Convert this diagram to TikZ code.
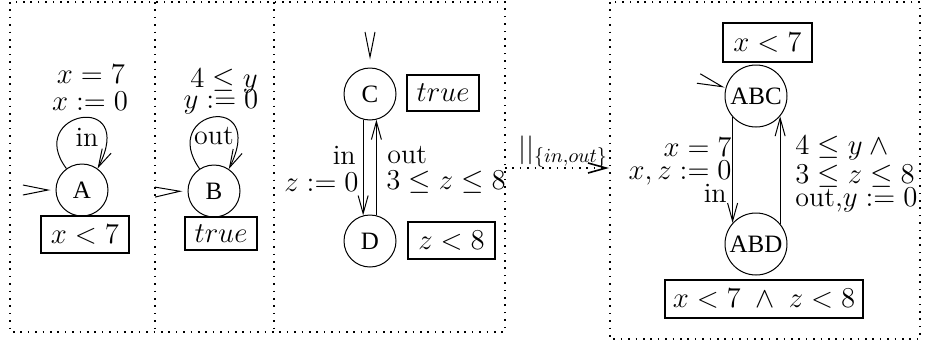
\documentclass[tikz,border=0pt]{standalone}
\usepackage{fontspec}
\newfontfamily\stfont{Liberation Serif}
\usetikzlibrary{arrows.meta}
\begin{document}
\begin{tikzpicture}[x=0.5pt,y=-0.5pt,
  state/.style={draw,circle,line width=0.5pt,minimum size=26pt,inner sep=0pt,font=\stfont\fontsize{12.5}{12.5}\selectfont},
  bigstate/.style={state,minimum size=31pt},
  inv/.style={draw,line width=1.2pt,inner sep=0pt,font=\fontsize{14}{14}\selectfont},
  lbl/.style={inner sep=0pt,font=\fontsize{14}{14}\selectfont},
  frame/.style={line width=0.8pt,dash pattern=on 0.8pt off 2.9pt},
  arr/.style={line width=0.5pt,-{Straight Barb[length=9pt,width=5pt]}},
  initarr/.style={line width=0.5pt,dash pattern=on 0pt off 1000pt,-{Straight Barb[length=12.5pt,width=5pt]}}]
\useasboundingbox (0,0) rectangle (926,343);
% frames
\draw[frame] (10,2) rectangle (505,332);
\draw[frame] (155,2) -- (155,332);
\draw[frame] (274,2) -- (274,332);
\draw[frame] (610,2) rectangle (920,339);

% panel 1
\node[state] (A) at (82,190) {A};
\coordinate (a0) at (25,190);
\draw[initarr,shorten >=2.5pt] (a0) -- (A.west);
\draw[arr] (A.126) .. controls (24,112) and (138,90) .. (A.54);
\node[lbl] (lA1) at (91,74) {$x=7$};
\node[lbl] (lA2) at (90,101) {$x:=0$};
\node[lbl] (lA3) at (87,137) {in};
\node[inv,minimum width=44pt,minimum height=18.5pt] (iA) at (85,234.5) {$x<7$};

% panel 2
\node[state] (B) at (214,191) {B};
\coordinate (b0) at (157,192);
\draw[initarr,shorten >=2.5pt] (b0) -- (B.west);
\draw[arr] (B.123) .. controls (158,110) and (268,90) .. (B.56);
\node[lbl] (lB1) at (224,81) {$4\leq y$};
\node[lbl] (lB2) at (221,102) {$y:=0$};
\node[lbl] (lB3) at (214,136) {out};
\node[inv,minimum width=36pt,minimum height=16.5pt] (iB) at (221,233.5) {$true$};

% panel 3
\node[state] (C) at (370,94) {C};
\node[state] (D) at (370,241) {D};
\coordinate (c0) at (370,33);
\draw[initarr,shorten >=4pt] (c0) -- (C.north);
\draw[arr] (C.-105.6) -- (D.105.6);
\draw[arr] (D.76.6) -- (C.-76.6);
\node[inv,minimum width=36pt,minimum height=18pt] (iC) at (443,93) {$true$};
\node[inv,minimum width=43.5pt,minimum height=18.5pt] (iD) at (451.5,240.5) {$z<8$};
\node[lbl,anchor=east] (lC1) at (356,155) {in};
\node[lbl,anchor=east] (lC2) at (359,182) {$z:=0$};
\node[lbl,anchor=west] (lC3) at (387,155) {out};
\node[lbl,anchor=west] (lC4) at (386,182) {$3\leq z\leq 8$};

% composition arrow
\coordinate (k1) at (505,168);
\coordinate (k2) at (609,168);
\draw[frame,-{Straight Barb[length=9pt,width=5pt]}] (k1) -- (k2);
\node[lbl] (comp) at (563,152) {$||_{\{in,out\}}$};

% panel 4
\node[bigstate] (ABC) at (756,96) {ABC};
\node[bigstate] (ABD) at (756,244) {ABD};
\coordinate (g0) at (700,79);
\draw[initarr,shorten >=0.5pt] (g0) -- (ABC.165);
\draw[arr] (ABC.-138) -- (ABD.138);
\draw[arr] (ABD.40) -- (ABC.-40);
\node[inv,minimum width=44.5pt,minimum height=19.5pt] (iABC) at (767.5,42.5) {$x<7$};
\node[inv,minimum width=99pt,minimum height=19pt] (iABD) at (764,299) {$x<7\;\wedge\;z<8$};
\node[lbl,anchor=east] (lL1) at (732,147) {$x=7$};
\node[lbl,anchor=east] (lL2) at (732,173) {$x,z:=0$};
\node[lbl,anchor=east] (lL3) at (727,193) {in};
\node[lbl,anchor=west] (lR1) at (795,148) {$4\leq y\wedge{}$};
\node[lbl,anchor=west] (lR2) at (795,176) {$3\leq z\leq 8$};
\node[lbl,anchor=west] (lR3) at (795,200) {$\mathrm{out},\!y:=0$};
\end{tikzpicture}
\end{document}
